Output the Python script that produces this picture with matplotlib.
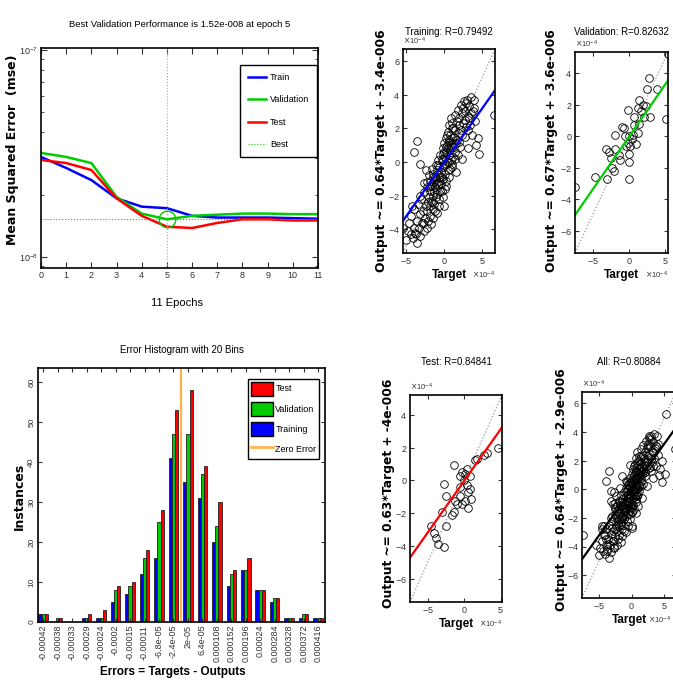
import numpy as np
import matplotlib.pyplot as plt
from matplotlib.ticker import MultipleLocator, LogLocator, NullFormatter
from matplotlib.patches import Patch
from matplotlib.lines import Line2D

plt.rcParams['font.family'] = ['Liberation Sans Narrow', 'Liberation Sans', 'DejaVu Sans']
plt.rcParams['axes.linewidth'] = 1.2

# training performance (mse) per epoch
epochs = list(range(12))
train_perf = [3.04e-8, 2.69e-8, 2.35e-8, 1.92e-8, 1.75e-8, 1.72e-8, 1.58e-8, 1.55e-8, 1.55e-8, 1.55e-8, 1.54e-8, 1.53e-8]
val_perf = [3.18e-8, 3.04e-8, 2.84e-8, 1.95e-8, 1.62e-8, 1.52e-8, 1.58e-8, 1.60e-8, 1.62e-8, 1.62e-8, 1.61e-8, 1.61e-8]
test_perf = [2.94e-8, 2.84e-8, 2.63e-8, 1.92e-8, 1.58e-8, 1.40e-8, 1.38e-8, 1.46e-8, 1.52e-8, 1.52e-8, 1.50e-8, 1.50e-8]
best_epoch = 5
best_perf = 1.52e-8

# error histogram, 20 bins
bin_centers = [-0.00042, -0.000376, -0.000332, -0.000288, -0.000244, -0.0002, -0.000156, -0.000112, -6.8e-05, -2.4e-05,
               2e-05, 6.4e-05, 0.000108, 0.000152, 0.000196, 0.00024, 0.000284, 0.000328, 0.000372, 0.000416]
bin_labels = ['-0.00042', '-0.00038', '-0.00033', '-0.00029', '-0.00024', '-0.0002', '-0.00015', '-0.00011', '-6.8e-05', '-2.4e-05',
              '2e-05', '6.4e-05', '0.000108', '0.000152', '0.000196', '0.00024', '0.000284', '0.000328', '0.000372', '0.000416']
hist_train = [2, 0, 0, 1, 1, 5, 7, 12, 16, 41, 35, 31, 20, 9, 13, 8, 5, 1, 1, 1]
hist_val = [2, 1, 0, 1, 1, 8, 9, 16, 25, 47, 47, 37, 24, 12, 13, 8, 6, 1, 2, 1]
hist_test = [2, 1, 0, 2, 3, 9, 10, 18, 28, 53, 58, 39, 30, 13, 16, 8, 6, 1, 2, 1]

# regression data (units of 1e-4)
train_t = [-5.4, -5.0, -4.8, -4.6, -4.4, -4.3, -4.1, -4.0, -3.9, -3.8, -3.7, -3.6, -3.5, -3.4, -3.3, -3.2, -3.1, -3.0, -2.9, -2.8,
           -2.7, -2.6, -2.5, -2.4, -2.3, -2.2, -2.2, -2.1, -2.0, -2.0, -1.9, -1.9, -1.8, -1.8, -1.7, -1.7, -1.6, -1.6, -1.5, -1.5,
           -1.4, -1.4, -1.3, -1.3, -1.2, -1.2, -1.1, -1.1, -1.0, -1.0, -0.9, -0.9, -0.8, -0.8, -0.7, -0.7, -0.6, -0.6, -0.5, -0.5,
           -0.4, -0.4, -0.3, -0.3, -0.2, -0.2, -0.1, -0.1, 0.0, 0.0, 0.0, 0.1, 0.1, 0.2, 0.2, 0.3, 0.3, 0.4, 0.4, 0.5,
           0.5, 0.6, 0.6, 0.7, 0.7, 0.8, 0.8, 0.9, 0.9, 1.0, 1.0, 1.1, 1.2, 1.2, 1.3, 1.4, 1.4, 1.5, 1.6, 1.6,
           1.7, 1.8, 1.8, 1.9, 2.0, 2.1, 2.2, 2.2, 2.3, 2.4, 2.5, 2.6, 2.7, 2.8, 2.9, 3.0, 3.1, 3.2, 3.3, 3.4,
           3.5, 3.6, 3.7, 3.9, 4.0, 4.2, 4.4, 4.6, -3.5, -3.9, 6.6, -3.1, -2.4, -2.6,
           -1.5, -1.2, -0.9, -0.6, -0.3, -0.2, 0.1, 0.3, 0.5, 0.7, 0.9, 1.1, 1.1, 1.3, 1.5, 1.7, 1.9, 2.0, 2.3, 2.5,
           2.7, 2.9, 3.1, 3.3, -2.3, -2.1, -1.9, -1.6, -1.4, -1.1, -0.8, -0.5, -0.2, 0.0, 0.2, 0.4, 0.6, 0.8, 1.0, 1.2,
           3.8, 4.1, -4.2, -3.2, -2.8]
train_y = [-3.9, -4.6, -4.1, -3.6, -4.3, -3.2, -4.5, -3.9, -2.8, -4.2, -4.3, -3.5, -4.8, -2.5, -3.9, -3.1, -4.4, -2.2, -3.6, -2.9,
           -4.1, -1.8, -3.3, -2.6, -3.9, -1.5, -2.9, -3.5, -2.1, -0.8, -2.6, -3.2, -1.7, -1.1, -2.3, -3.7, -1.4, -0.4, -2.0, -2.8,
           -1.2, -0.7, -1.8, -2.5, -0.9, -1.5, -0.2, -2.1, -1.0, -1.6, -0.5, -3.0, -1.3, 0.1, -0.8, -2.2, -0.3, -1.1, 0.4, -1.7,
           -0.6, -1.3, 0.2, -0.9, 0.8, -0.3, -1.0, 0.5, -0.2, 1.1, -2.6, 0.3, -0.7, 1.4, -0.1, 0.6, -1.4, 1.0, 0.0, 1.8,
           -0.5, 0.4, 2.2, 1.2, -0.9, 0.7, 1.6, 0.1, 2.6, 1.4, -0.3, 0.9, 2.0, 0.3, 1.5, 2.8, 0.6, 1.9, -0.6, 1.1,
           2.4, 3.1, 0.4, 1.7, 2.6, 0.9, 3.4, 1.9, 2.9, 0.2, 2.3, 3.6, 1.5, 3.0, 2.1, 3.7, 2.7, 0.8, 3.3, 2.2,
           3.85, 2.9, 1.6, 3.7, 3.2, 1.0, 1.45, 0.5, 1.25, 0.6, 2.8, -0.1, -0.5, -1.25,
           -0.9, -2.9, -1.9, -2.6, -1.7, -2.1, -1.6, 0.9, 0.8, 0.0, 1.0, -0.1, 2.3, 0.9, 0.2, 1.3, 2.2, 1.2, 1.6, 3.2,
           2.5, 3.5, 1.9, 2.6, -1.2, -2.4, -1.4, -2.4, -3.3, -1.3, -0.2, -0.9, 0.1, 0.6, -1.1, 1.6, 1.3, -0.4, 2.0, 1.1,
           3.0, 2.4, -2.6, -2.0, -3.6]
val_t = [5.3, 5.1, 2.7, 2.5, 3.8, 2.9, 2.1, 1.4, 1.2, 0.7, -0.2, -0.9, -1.85, -0.7, 0.0, -0.2, 0.2, 1.2, 0.9, 0.0, 0.0,
         0.0, -3.1, -2.8, -2.5, -1.2, -2.3, -2.1, -3.0, -4.6, -7.4, -1.85, -0.5, 0.5, 0.7, 1.4, 1.6, 2.3, 1.9, 0.4, -0.4, -1.4]
val_y = [5.25, 1.1, 3.7, 3.0, 3.0, 1.25, 1.2, 2.3, 1.8, 1.2, 1.7, 0.6, 0.1, 0.5, 0.0, -0.4, -0.6, 0.2, -0.5, -1.1, -1.6,
         -2.7, -0.8, -1.0, -1.4, -1.5, -2.0, -2.2, -2.7, -2.6, -3.2, -0.8, 0.0, 0.1, 0.7, 0.8, 1.6, 1.9, 2.0, -0.2, -0.6, -1.2]
test_t = [-1.4, -2.75, -2.5, -3.0, -4.5, -4.1, -3.6, -2.75, -2.5, -3.9, -0.5, -0.3, 0.1, 0.0, -0.5, 0.35, 0.8, 0.6, 1.0,
          0.1, -0.3, 0.6, -1.0, -1.4, -1.6, -1.2, 1.5, 1.8, 2.8, 3.2, 4.6, 0.35, -0.5, 0.8]
test_y = [0.95, -0.2, -0.95, -1.9, -2.8, -3.2, -3.85, -4.05, -2.8, -3.5, 0.3, 0.5, 0.4, 0.0, -0.4, -0.3, -0.5, -0.7, -1.15,
          -1.25, -1.45, -1.65, -1.45, -1.9, -2.1, -1.25, 1.25, 1.3, 1.55, 1.65, 2.0, 0.7, -0.95, 0.3]
all_t = train_t + val_t + test_t
all_y = train_y + val_y + test_y

# fits and R values
slopes = [0.64, 0.67, 0.63, 0.64]
offsets = [-3.4e-6, -3.6e-6, -4e-6, -2.9e-6]
r_values = ['0.79492', '0.82632', '0.84841', '0.80884']
fit_labels = ['Output ~= 0.64*Target + -3.4e-006', 'Output ~= 0.67*Target + -3.6e-006',
              'Output ~= 0.63*Target + -4e-006', 'Output ~= 0.64*Target + -2.9e-006']
names = ['Training', 'Validation', 'Test', 'All']
lims = [(-5.4, 6.7), (-7.4, 5.35), (-7.4, 5.2), (-7.6, 6.8)]

W, H = 673, 692
green = (0, 0.8, 0)


def box(l, t, r, b):
    return [l / W, 1 - b / H, (r - l) / W, (b - t) / H]


fig = plt.figure(figsize=(W / 100, H / 100), dpi=100)

# --- performance plot
ax = fig.add_axes(box(41, 48, 318, 268))
ax.semilogy(epochs, train_perf, color='b', lw=1.8, label='Train')
ax.semilogy(epochs, val_perf, color=green, lw=1.8, label='Validation')
ax.semilogy(epochs, test_perf, color='r', lw=1.8, label='Test')
ax.axhline(best_perf, color=green, ls=':', lw=0.8, label='Best')
ax.axvline(best_epoch, color=(0.55, 0.7, 0.55), ls=':', lw=0.8)
ax.plot(best_epoch, best_perf, 'o', mfc='none', mec=green, ms=12, mew=1)
ax.set_xlim(0, 11)
ax.set_ylim(8.85e-9, 1.02e-7)
ax.set_xticks(epochs)
ax.yaxis.set_minor_locator(LogLocator(subs=np.arange(2, 10)))
ax.yaxis.set_minor_formatter(NullFormatter())
ax.tick_params(direction='in', top=True, right=True, which='both', labelsize=6.5, pad=2, colors='#333333')
ax.tick_params(which='major', length=4)
ax.set_title('Best Validation Performance is 1.52e-008 at epoch 5', fontsize=6.8, pad=15)
ax.legend(loc='upper right', bbox_to_anchor=(1.014, 0.945), fontsize=6.5, labelspacing=1.5,
          handlelength=2.0, handletextpad=0.4, fancybox=False, edgecolor='k', framealpha=1, borderpad=0.9)
fig.text(177 / W, 1 - 303 / H, '11 Epochs', fontsize=8, ha='center', va='center')
fig.text(13 / W, 1 - 150 / H, 'Mean Squared Error  (mse)', family='DejaVu Sans', weight='bold',
         fontsize=9, rotation=90, ha='center', va='center')

# --- error histogram
ax2 = fig.add_axes(box(38, 368, 325, 622))
x = np.array(bin_centers)
w = 0.22 * 4.4e-5
ax2.bar(x - w, hist_train, w, color='b', edgecolor='#202020', lw=0.6)
ax2.bar(x, hist_val, w, color=green, edgecolor='#202020', lw=0.6)
ax2.bar(x + w, hist_test, w, color='r', edgecolor='#202020', lw=0.6)
ax2.axvline(0, color=(1, 0.7, 0.3), lw=1.6)
ax2.set_xlim(-0.000436, 0.000437)
ax2.set_ylim(0, 63.5)
ax2.set_xticks(bin_centers)
ax2.set_xticklabels(bin_labels, rotation=90, fontsize=6.5)
ax2.set_yticks(range(0, 61, 10))
ax2.set_yticklabels([str(v) for v in range(0, 61, 10)], rotation=90, va='center', fontsize=6)
ax2.tick_params(direction='in', top=True, right=True, length=3, pad=2, colors='#333333')
ax2.set_title('Error Histogram with 20 Bins', fontsize=7, pad=11)
handles = [Patch(facecolor='r', edgecolor='k'), Patch(facecolor=green, edgecolor='k'),
           Patch(facecolor='b', edgecolor='k'), Line2D([], [], color=(1, 0.7, 0.3), lw=2)]
ax2.legend(handles, ['Test', 'Validation', 'Training', 'Zero Error'], loc='upper right',
           bbox_to_anchor=(0.995, 0.975), fontsize=6.5, handlelength=2.4, handleheight=2.0,
           labelspacing=0.7, handletextpad=0.3, fancybox=False, edgecolor='k', framealpha=1, borderpad=0.3)
fig.text(173 / W, 1 - 672 / H, 'Errors = Targets - Outputs', fontsize=8.5, weight='bold', ha='center', va='center')
fig.text(19 / W, 1 - 496 / H, 'Instances', family='DejaVu Sans', weight='bold',
         fontsize=9, rotation=90, ha='center', va='center')

# --- regression plots
boxes = [(403, 49, 495, 253), (575, 52, 668, 253), (410, 395, 502, 602), (582, 392, 676, 598)]
title_y = [1.083, 1.10, 1.16, 1.146]
ylabel_pos = [(381, 151), (552, 151), (389, 493), (561, 490)]
line_colors = ['b', green, 'r', 'k']
point_sets = [(train_t, train_y), (val_t, val_y), (test_t, test_y), (all_t, all_y)]

for i in range(4):
    ax = fig.add_axes(box(*boxes[i]))
    t = np.array(point_sets[i][0]) * 1e-4
    y = np.array(point_sets[i][1]) * 1e-4
    lo, hi = lims[i][0] * 1e-4, lims[i][1] * 1e-4
    xs = np.array([lo, hi])
    ax.plot(xs, xs, ':', color='#999999', lw=0.9)
    ax.plot(t, y, 'o', mfc='none', mec='k', ms=5.5, mew=0.6)
    ax.plot(xs, slopes[i] * xs + offsets[i], color=line_colors[i], lw=1.6)
    ax.set_xlim(lo, hi)
    ax.set_ylim(lo, hi)
    ax.xaxis.set_major_locator(MultipleLocator(5e-4))
    ax.yaxis.set_major_locator(MultipleLocator(2e-4))
    ax.ticklabel_format(style='sci', scilimits=(0, 0), useMathText=True)
    ax.xaxis.get_offset_text().set_fontsize(5.5)
    ax.yaxis.get_offset_text().set_fontsize(5.5)
    if boxes[i][2] > W:
        # keep the x10^-4 note inside the picture for the clipped panel
        ax.xaxis.get_offset_text().set_x((W - 2 - boxes[i][0]) / (boxes[i][2] - boxes[i][0]))
    ax.tick_params(direction='in', top=True, right=True, labelsize=6.5, length=3, pad=2, colors='#333333')
    ax.text(0.5, title_y[i], names[i] + ': R=' + r_values[i], transform=ax.transAxes,
            fontsize=7, ha='center', va='center')
    ax.set_xlabel('Target', fontsize=8.5, weight='bold', labelpad=2)
    fig.text(ylabel_pos[i][0] / W, 1 - ylabel_pos[i][1] / H, fit_labels[i], family='DejaVu Sans',
             weight='bold', fontsize=8.8, rotation=90, ha='center', va='center')

fig.savefig('out.png', dpi=100)
